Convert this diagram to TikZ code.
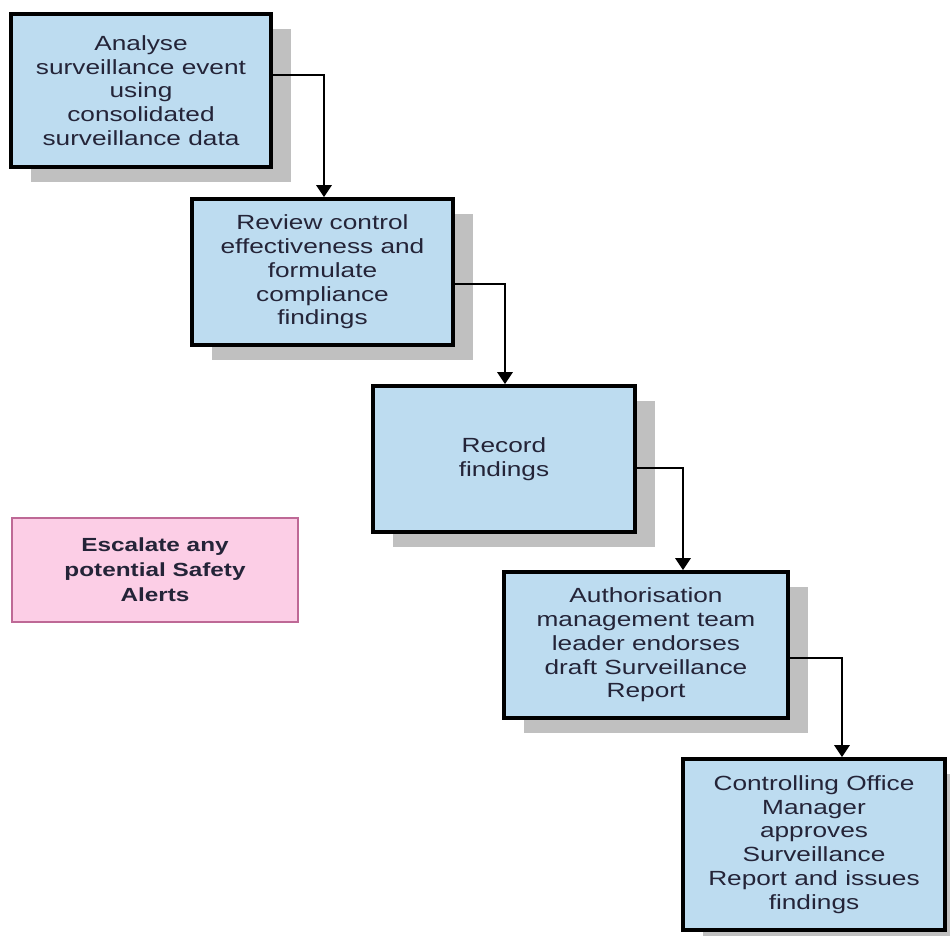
\documentclass[tikz,border=0pt]{standalone}
\usepackage{fontspec}
\setmainfont{Liberation Sans}[FakeStretch=1.28]
\usetikzlibrary{arrows.meta,shadows,calc}
\definecolor{boxblue}{RGB}{189,220,240}
\definecolor{shadowgray}{RGB}{192,192,192}
\definecolor{txtdark}{RGB}{36,36,56}
\definecolor{pinkfill}{RGB}{252,206,230}
\definecolor{pinkline}{RGB}{190,105,150}
\tikzset{
  stepbox/.style={draw=black, line width=3.6pt, fill=boxblue, inner sep=0pt,
    align=center, text=txtdark,
    font=\fontsize{20.5}{23.7}\selectfont,
    drop shadow={shadow xshift=20pt, shadow yshift=-15pt, fill=shadowgray, opacity=1}},
  alertbox/.style={draw=pinkline, line width=1.6pt, fill=pinkfill, inner sep=0pt,
    align=center, text=txtdark,
    font=\fontsize{19}{25}\selectfont\bfseries},
  conn/.style={draw=black, line width=2.8pt, -{Triangle[width=15pt,length=12pt]}}
}
\begin{document}
\begin{tikzpicture}[x=1pt,y=-1pt]
\useasboundingbox (0,0) rectangle (950,936);
\node[stepbox, minimum width=260pt, minimum height=153pt] (b1) at (141,90.5)
  {Analyse\\surveillance event\\using\\consolidated\\surveillance data};
\node[stepbox, minimum width=261pt, minimum height=146pt] (b2) at (322.5,272)
  {Review control\\effectiveness and\\formulate\\compliance\\findings};
\node[stepbox, minimum width=262pt, minimum height=146pt] (b3) at (504,459)
  {Record\\findings};
\node[stepbox, minimum width=284pt, minimum height=146pt] (b4) at (646,645)
  {Authorisation\\management team\\leader endorses\\draft Surveillance\\Report};
\node[stepbox, minimum width=262pt, minimum height=171pt] (b5) at (814,844.5)
  {Controlling Office\\Manager\\approves\\Surveillance\\Report and issues\\findings};
\node[alertbox, minimum width=286pt, minimum height=104pt] (alert) at (155,570)
  {Escalate any\\potential Safety\\Alerts};
\coordinate (k1) at (324,75);
\coordinate (k2) at (505,284);
\coordinate (k3) at (683,468);
\coordinate (k4) at (842,658);
\draw[conn] (b1.east |- k1) -- (k1) -- (k1 |- b2.north);
\draw[conn] (b2.east |- k2) -- (k2) -- (k2 |- b3.north);
\draw[conn] (b3.east |- k3) -- (k3) -- (k3 |- b4.north);
\draw[conn] (b4.east |- k4) -- (k4) -- (k4 |- b5.north);
\end{tikzpicture}
\end{document}
